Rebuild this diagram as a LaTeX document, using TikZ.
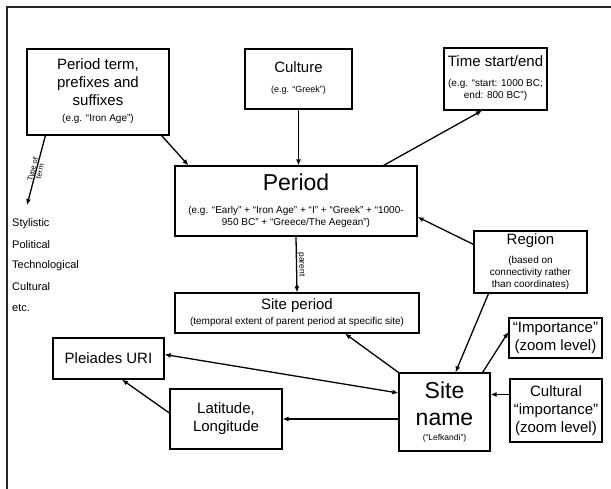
\documentclass[tikz,border=0pt]{standalone}
\usepackage{fontspec}
\setmainfont{Liberation Sans}
\usetikzlibrary{arrows.meta}

\newcommand{\subtxt}[2][10]{{\fontsize{#1}{12}\selectfont\begin{tabular}[t]{@{}c@{}}#2\end{tabular}}}

\begin{document}
\begin{tikzpicture}[x=1pt,y=-1pt,
  box/.style={draw, line width=1.2pt, align=center, inner sep=1pt, font=\fontsize{15}{18}\selectfont},
  arr/.style={line width=1.3pt, -{Latex[length=6pt,width=5pt]}},
  darr/.style={line width=1.3pt, {Latex[length=6pt,width=5pt]}-{Latex[length=6pt,width=5pt]}},
  smalllabel/.style={font=\fontsize{7.5}{7.5}\selectfont, inner sep=0.5pt, align=center},
  listitem/.style={font=\fontsize{11}{13}\selectfont, inner sep=0pt, anchor=west}]
\useasboundingbox (0,0) rectangle (611,489);
\draw[line width=1.3pt, black!85] (611,7) -- (7,7) -- (7,489);

% top row
\node[box, minimum width=142pt, minimum height=86pt] (perterm) at (98,92) {Period term,\\ prefixes and\\ suffixes\\[-1.5pt] \subtxt{(e.g. ``Iron Age'')}};
\node[box, minimum width=107pt, minimum height=60pt] (culture) at (298.5,79) {Culture\\[2pt] \subtxt[9]{(e.g. ``Greek'')}};
\node[box, minimum width=103pt, minimum height=62pt] (time) at (495.5,79) {Time start/end\\[2pt] \subtxt{(e.g. ``start: 1000 BC;\\ end: 800 BC'')}};

% middle
\node[box, minimum width=242pt, minimum height=70pt] (period) at (296,201) {{\fontsize{23}{27}\selectfont Period}\\[5pt] \subtxt{(e.g. ``Early'' + ``Iron Age'' + ``I'' + ``Greek'' + ``1000-\\ 950 BC'' + ``Greece/The Aegean'')}};
\node[box, minimum width=113pt, minimum height=62pt] (region) at (530.5,262) {Region\\[1pt] \subtxt{(based on\\ connectivity rather\\ than coordinates)}};
\node[box, minimum width=244pt, minimum height=40pt] (siteper) at (297,313) {Site period\\[-3pt] \subtxt{(temporal extent of parent period at specific site)}};

% bottom
\node[box, minimum width=93pt, minimum height=40pt] (import) at (555.5,338) {``Importance''\\ (zoom level)};
\node[box, minimum width=91pt, minimum height=78pt, font=\fontsize{23}{27}\selectfont] (sitename) at (444.5,412) {Site\\ name\\[-12pt] {\fontsize{8.5}{10}\selectfont (``Lefkandi'')}};
\node[box, minimum width=92pt, minimum height=63pt] (cultimp) at (556,410.5) {Cultural\\ ``importance''\\ (zoom level)};
\node[box, minimum width=111pt, minimum height=41pt] (pleiades) at (108.5,358.5) {Pleiades URI};
\node[box, minimum width=112pt, minimum height=60pt] (latlon) at (226,419) {Latitude,\\ Longitude};

% types of term
\foreach \w [count=\i] in {Stylistic,Political,Technological,Cultural,etc.}
  \node[listitem] (type\i) at (12,{202+21.2*\i}) {\w};
\coordinate (typend) at (27,205);

% connectors
\draw[arr] ([xshift=19pt]perterm.south west) -- node[smalllabel, sloped] {Type of\\ term} (typend);
\draw[arr] ([xshift=-8pt]perterm.south east) -- ([xshift=14pt]period.north west);
\draw[arr] (culture.south) -- (culture.south |- period.north);
\draw[arr] ([xshift=-34pt]period.north east) -- ([xshift=-13.5pt]time.south);
\draw[arr] (period.south) -- node[smalllabel, sloped, above, font=\fontsize{8.5}{9}\selectfont] {parent} (siteper.north);
\draw[arr] ([yshift=-14pt]region.north west) -- ([yshift=-16pt]period.east);
\draw[arr] ([xshift=-42pt]region.south) -- ([xshift=11pt]sitename.north);
\draw[arr] ([xshift=-8pt]sitename.north east) -- ([yshift=6pt]import.west);
\draw[arr] ([yshift=16pt]cultimp.west) -- ([yshift=16pt]cultimp.west -| sitename.east);
\draw[arr] (sitename.north west) -- ([xshift=48pt]siteper.south);
\draw[darr] ([yshift=4pt]pleiades.east) -- ([yshift=19pt]sitename.west);
\draw[arr] ([yshift=-7pt]sitename.west) -- ([yshift=-7pt]sitename.west -| latlon.east);
\draw[arr] ([yshift=6pt]latlon.west) -- ([xshift=13.5pt]pleiades.south);
\end{tikzpicture}
\end{document}
